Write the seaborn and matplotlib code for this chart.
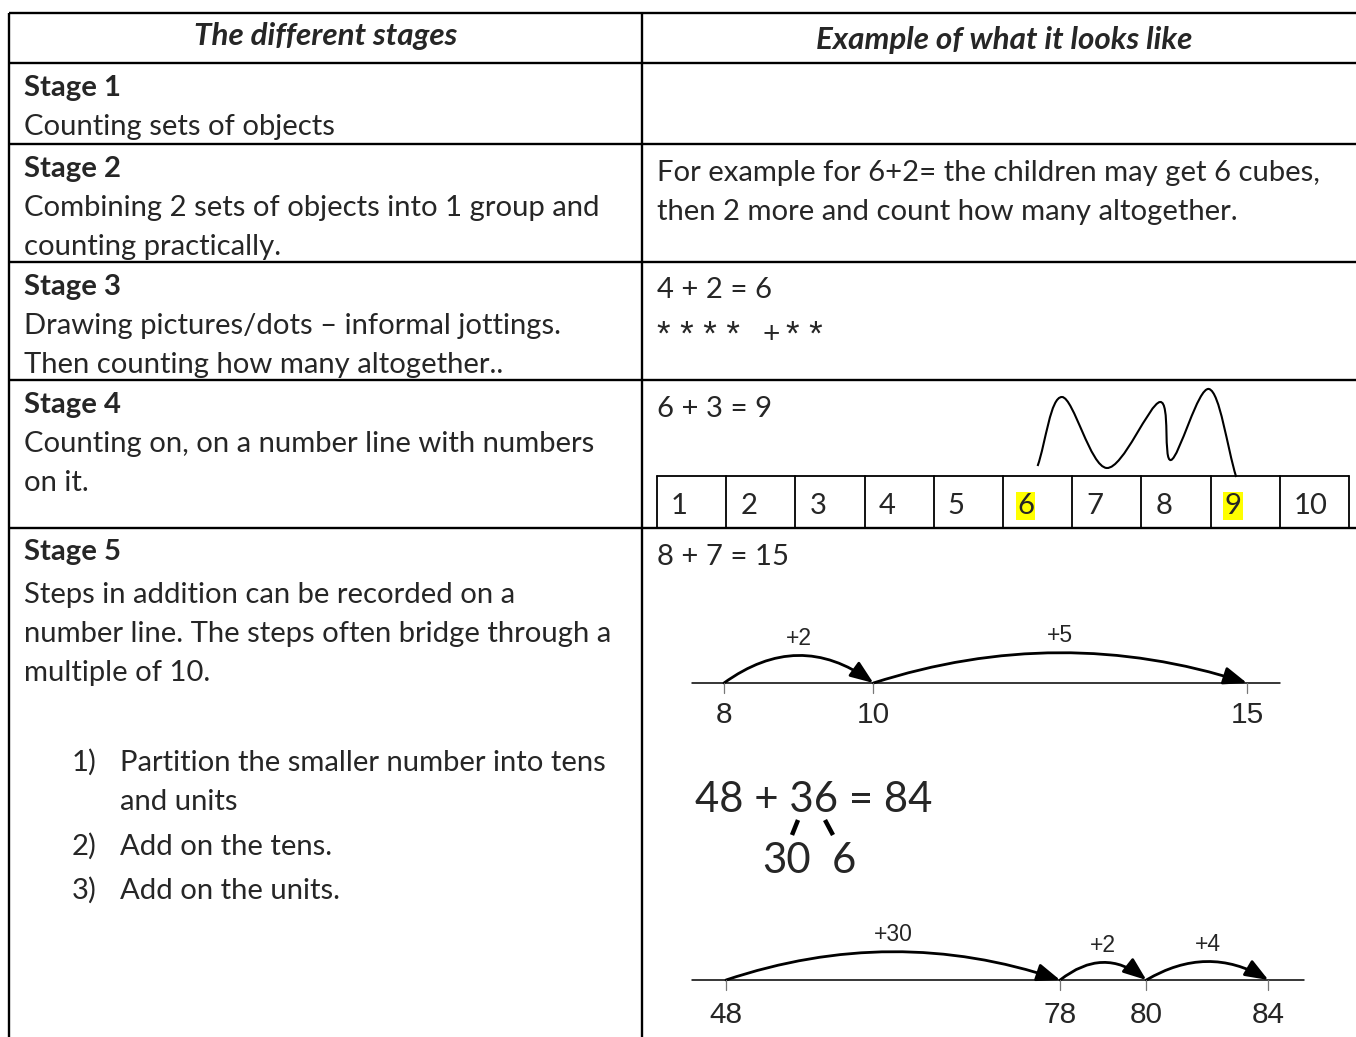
import numpy as np
import matplotlib
matplotlib.use("Agg")
import matplotlib.pyplot as plt
from matplotlib.patches import FancyArrowPatch, PathPatch
from matplotlib.path import Path
import seaborn as sns

sns.set_theme(style="white")
plt.rcParams["font.family"] = ["Lato", "DejaVu Sans"]

# ---- content ----
headers = ["The different stages", "Example of what it looks like"]
stage_titles = ["Stage 1", "Stage 2", "Stage 3", "Stage 4", "Stage 5"]
stage_text = [
    ["Counting sets of objects"],
    ["Combining 2 sets of objects into 1 group and", "counting practically."],
    ["Drawing pictures/dots \u2013 informal jottings.", "Then counting how many altogether.."],
    ["Counting on, on a number line with numbers", "on it."],
    ["Steps in addition can be recorded on a",
     "number line. The steps often bridge through a",
     "multiple of 10."],
]
stage5_steps = [["Partition the smaller number into tens", "and units"],
                ["Add on the tens."],
                ["Add on the units."]]
example2 = ["For example for 6+2= the children may get 6 cubes,",
            "then 2 more and count how many altogether."]
sum3 = [4, 2]
sum4 = [6, 3]
sum5 = [8, 7]
big_sum = [48, 36]
big_split = [30, 6]
box_numbers = list(range(1, 11))
highlighted = [6, 9]
nl1_start = 8
nl1_jumps = [2, 5]
nl2_start = 48
nl2_jumps = [30, 2, 4]

# ---- layout (pixels) ----
W, H = 1356, 1037
col_x = [9, 642]
row_y = [13, 63, 144, 262, 380, 528]
line_gap = 39

fig = plt.figure(figsize=(W / 100, H / 100), dpi=100)
ax = fig.add_axes([0, 0, 1, 1])
ax.set_xlim(0, W)
ax.set_ylim(H, 0)
ax.axis("off")
renderer = fig.canvas.get_renderer()


def fit_size(text, width, **kw):
    t = ax.text(0, 0, text, fontsize=20, **kw)
    w = t.get_window_extent(renderer).width
    t.remove()
    return 20 * width / w


body = fit_size("Combining 2 sets of objects into 1 group and", 578)
head = fit_size(headers[0], 263, fontweight="bold", fontstyle="italic")
big = fit_size("48 + 36 = 84", 237)
star = fit_size("* * * *", 83, family="Liberation Sans")

# table grid
lw = 1.7
for y in row_y:
    ax.plot([col_x[0], W], [y, y], color="black", lw=lw, solid_capstyle="butt")
for x in col_x:
    ax.plot([x, x], [row_y[0], H], color="black", lw=lw, solid_capstyle="butt")

# headers
ax.text(326, 45, headers[0], fontsize=head, fontweight="bold", fontstyle="italic",
        ha="center", va="baseline")
ax.text(1004, 49, headers[1], fontsize=head, fontweight="bold", fontstyle="italic",
        ha="center", va="baseline")

# left column
for i, (title, lines) in enumerate(zip(stage_titles, stage_text)):
    y0 = row_y[i + 1] + 33 if i < 4 else 560
    ax.text(24, y0, title, fontsize=body, fontweight="bold", va="baseline")
    gap = line_gap if i < 4 else 43
    for j, s in enumerate(lines):
        ax.text(24, y0 + gap + j * line_gap, s, fontsize=body, va="baseline")

step_y = [771, 855, 899]
for k, (lines, y) in enumerate(zip(stage5_steps, step_y)):
    ax.text(72, y, f"{k + 1})", fontsize=body, va="baseline")
    for j, s in enumerate(lines):
        ax.text(120, y + j * line_gap, s, fontsize=body, va="baseline")

# right column: stage 2
for j, s in enumerate(example2):
    ax.text(657, 181 + j * line_gap, s, fontsize=body, va="baseline")

# stage 3
ax.text(657, 298, f"{sum3[0]} + {sum3[1]} = {sum(sum3)}", fontsize=body, va="baseline")
ax.text(657, 345, " ".join(["*"] * sum3[0]), fontsize=star, family="Liberation Sans",
        va="baseline")
ax.text(771, 343, "+", fontsize=star * 0.85, family="Liberation Sans", ha="center",
        va="baseline")
ax.text(786, 345, " ".join(["*"] * sum3[1]), fontsize=star, family="Liberation Sans",
        va="baseline")

# stage 4
ax.text(657, 417, f"{sum4[0]} + {sum4[1]} = {sum(sum4)}", fontsize=body, va="baseline")
box_x0, box_top, box_bot = 657, 476, 527
cell_w = 69.2
for k, n in enumerate(box_numbers):
    x = box_x0 + k * cell_w
    ax.plot([x, x], [box_top, box_bot], color="black", lw=1.3)
    hl = dict(facecolor="#ffff00", edgecolor="none", pad=1) if n in highlighted else None
    ax.text(x + 14, 514, str(n), fontsize=body, va="baseline", bbox=hl)
ax.plot([box_x0 + 10 * cell_w] * 2, [box_top, box_bot], color="black", lw=1.3)
ax.plot([box_x0, box_x0 + 10 * cell_w], [box_top, box_top], color="black", lw=1.3)


def cell_center(n):
    return box_x0 + (n - 0.5) * cell_w


# freehand hops from 6 to 9: a smooth stroke through landing points and peaks
land_y = [466, 468, 460, 477]
land_dx = [0, 0, -5, -9]
peak_y = [397, 402, 389]
peak_x = [1062, 1160, 1209]
pts = []
for h in range(sum4[1] + 1):
    pts.append((cell_center(sum4[0] + h) + land_dx[h], land_y[h]))
    if h < sum4[1]:
        pts.append((peak_x[h], peak_y[h]))
pts = np.array(pts, dtype=float)
ext = np.vstack([2 * pts[0] - pts[1], pts, 2 * pts[-1] - pts[-2]])
verts = [tuple(pts[0])]
codes = [Path.MOVETO]
for i in range(1, len(ext) - 2):
    p0, p1, p2, p3 = ext[i - 1], ext[i], ext[i + 1], ext[i + 2]
    c1 = p1 + (p2 - p0) / 6
    c2 = p2 - (p3 - p1) / 6
    verts += [tuple(c1), tuple(c2), tuple(p2)]
    codes += [Path.CURVE4] * 3
ax.add_patch(PathPatch(Path(verts, codes), fill=False, lw=1.5, color="black"))

# stage 5
ax.text(657, 565, f"{sum5[0]} + {sum5[1]} = {sum(sum5)}", fontsize=body, va="baseline")

nl_font = "Liberation Sans"


def number_line(values, xs, y, x_from, x_to, arc_h, label_y):
    ax.plot([x_from, x_to], [y, y], color="black", lw=1.1)
    for v, x in zip(values, xs):
        ax.plot([x, x], [y, y + 10], color="#777777", lw=0.9)
        ax.text(x, label_y, str(v), fontsize=21.5, family=nl_font,
                ha="center", va="baseline")
    for k in range(len(values) - 1):
        xa, xb = xs[k], xs[k + 1]
        rad = -2 * arc_h[k] / (xb - xa)
        arr = FancyArrowPatch((xa, y), (xb, y), connectionstyle=f"arc3,rad={rad}",
                              arrowstyle="-|>,head_length=0.78,head_width=0.3",
                              mutation_scale=18, lw=2, color="black",
                              shrinkA=0, shrinkB=0)
        ax.add_patch(arr)
        ax.text((xa + xb) / 2, y - arc_h[k] - 11,
                f"+{values[k + 1] - values[k]}", fontsize=16.5, family=nl_font,
                ha="center", va="baseline")


v1 = np.cumsum([nl1_start] + nl1_jumps)
x1 = 724 + (v1 - nl1_start) * 74.7
number_line(v1, x1, 683, 692, 1280, [27, 30], 723)

# big equation
ax.text(695, 812, f"{big_sum[0]} + {big_sum[1]} = {sum(big_sum)}", fontsize=big,
        va="baseline")
ax.plot([798, 792], [820, 835], color="black", lw=3.2, solid_capstyle="butt")
ax.plot([825, 833], [820, 835], color="black", lw=3.2, solid_capstyle="butt")
ax.text(762, 873, str(big_split[0]), fontsize=big, va="baseline")
ax.text(832, 873, str(big_split[1]), fontsize=big, va="baseline")

v2 = np.cumsum([nl2_start] + nl2_jumps)
x2 = 726 + 61 * np.concatenate([[0], np.cumsum(np.sqrt(nl2_jumps))])
number_line(v2, x2, 980, 692, 1304, [28, 17, 18], 1023)

fig.savefig("out.png", dpi=100, facecolor="white")
